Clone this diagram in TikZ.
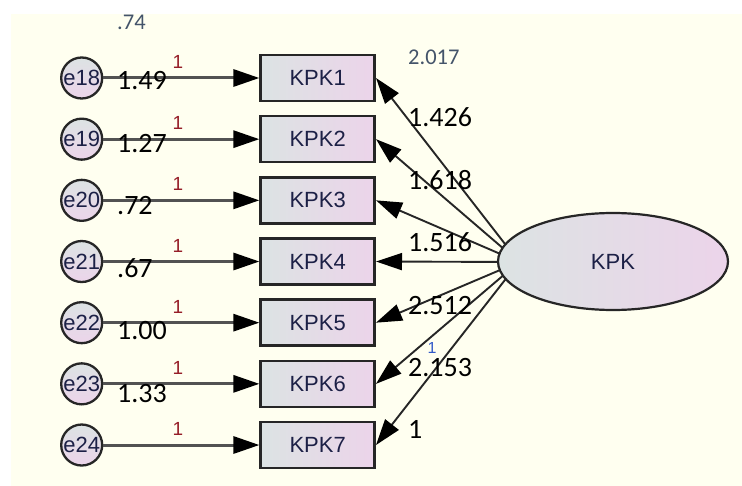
\documentclass[tikz,border=0pt]{standalone}
\usepackage{fontspec}
\setmainfont{Carlito}
\newfontfamily\amosfont{Liberation Sans}
\usetikzlibrary{arrows.meta,shapes.geometric}
\definecolor{canvas}{RGB}{255,255,240}
\definecolor{inkline}{RGB}{38,38,38}
\definecolor{fillgray}{RGB}{220,227,227}
\definecolor{fillpink}{RGB}{236,212,234}
\definecolor{labeltext}{RGB}{28,32,70}
\definecolor{onecolor}{RGB}{150,30,40}
\definecolor{bluenum}{RGB}{50,90,200}
\definecolor{slate}{RGB}{68,84,106}

\begin{document}
\begin{tikzpicture}[x=1pt,y=-1pt,
  varfont/.style={font=\amosfont\fontsize{22}{24}\selectfont, text=labeltext},
  obsbox/.style={rectangle, draw=inkline, line width=2.6pt, left color=fillgray,
    right color=fillpink, minimum width=114pt, minimum height=46pt, inner sep=0pt, varfont},
  errnode/.style={circle, draw=inkline, line width=2.3pt, top color=fillgray,
    bottom color=fillpink, minimum size=41pt, inner sep=0pt, varfont},
  latent/.style={ellipse, draw=inkline, line width=2.2pt, left color=fillgray,
    right color=fillpink, minimum width=230pt, minimum height=97pt, inner sep=0pt, varfont},
  bigtip/.style={-{Triangle[length=26pt,width=17pt,color=black,fill=black]}},
  errpath/.style={draw=black!68, line width=3pt, bigtip},
  loadpath/.style={draw=black!85, line width=1.9pt, bigtip},
  estim/.style={anchor=base west, inner sep=0pt, font=\fontsize{28}{30}\selectfont, text=black},
  varest/.style={anchor=base west, inner sep=0pt, font=\fontsize{22.5}{24}\selectfont, text=slate},
  fixone/.style={anchor=base, inner sep=0pt, font=\amosfont\fontsize{19}{20}\selectfont, text=onecolor},
]
% canvas
\useasboundingbox (0,0) rectangle (742,486);
\fill[white] (0,0) rectangle (742,486);
\fill[canvas] (11,14) rectangle (742,486);

% error terms and indicators
\foreach \i/\e in {1/18,2/19,3/20,4/21,5/22,6/23,7/24}{
  \pgfmathsetmacro\yy{78+61.17*(\i-1)}
  \node[errnode] (e\e) at (81.7,\yy) {e\e};
  \node[obsbox] (b\i) at (317.7,\yy) {KPK\i};
  \node[fixone] (one\i) at (178,\yy-9.5) {1};
}

% loadings fan out from behind the latent variable
\coordinate (hub) at (519,262);
\foreach \i in {1,...,7}{
  \draw[loadpath] (hub) -- (b\i.east);
}
\node[latent] (K) at (613,261.5) {KPK};

% error paths
\foreach \i/\e in {1/18,2/19,3/20,4/21,5/22,6/23,7/24}{
  \draw[errpath] (e\e) -- (b\i);
}

% intercepts
\node[estim] (m1) at (117,90) {1.49};
\node[estim] (m2) at (117,152.5) {1.27};
\node[estim] (m3) at (117,215) {.72};
\node[estim] (m4) at (117,278) {.67};
\node[estim] (m5) at (117,340) {1.00};
\node[estim] (m6) at (117,402.7) {1.33};

% loadings
\node[estim] (w1) at (408,126.7) {1.426};
\node[estim] (w2) at (408,190) {1.618};
\node[estim] (w3) at (408,251.7) {1.516};
\node[estim] (w4) at (408,315) {2.512};
\node[estim] (w5) at (408,377) {2.153};
\node[estim] (w6) at (408,438) {1};

% variances
\node[varest] (v1) at (117,29.3) {.74};
\node[varest] (v2) at (408,65) {2.017};
\node[anchor=base, inner sep=0pt, font=\amosfont\fontsize{16}{17}\selectfont, text=bluenum] (fixk) at (432,353.5) {1};
\end{tikzpicture}
\end{document}
